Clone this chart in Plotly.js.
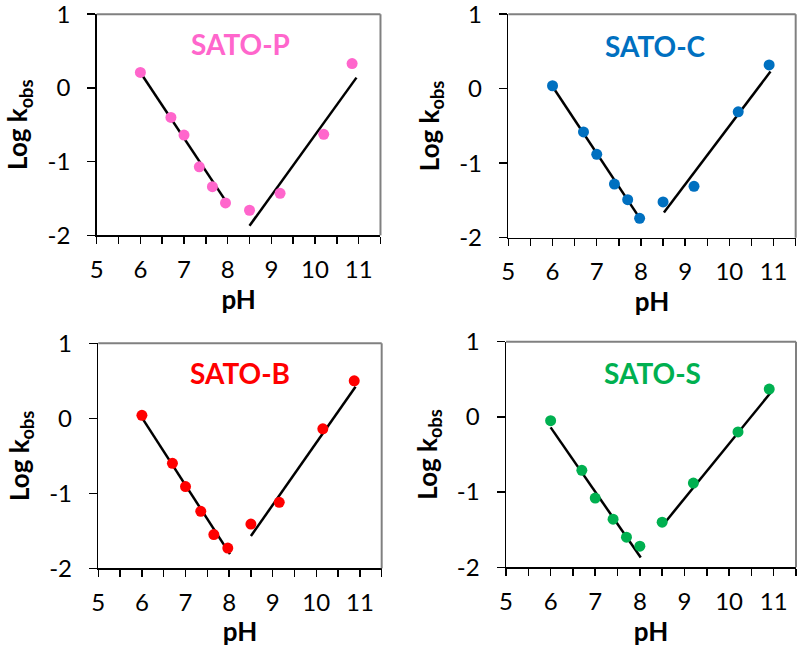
<!DOCTYPE html>
<html>
<head>
<meta charset="utf-8">
<script src="https://cdn.plot.ly/plotly-3.0.1.min.js"></script>
<style>html,body{margin:0;padding:0;background:#fff;}#chart{width:800px;height:647px;}</style>
</head>
<body>
<div id="chart"></div>
<script>
// ---- data ----
const panelNames = ["SATO-P", "SATO-C", "SATO-B", "SATO-S"];
const panelColors = ["#FF66CC", "#0070C0", "#FF0000", "#00B050"];

const phP  = [6.0, 6.7, 7.0, 7.35, 7.65, 7.95, 8.5, 9.2, 10.2, 10.85];
const logP = [0.21, -0.40, -0.64, -1.07, -1.34, -1.56, -1.66, -1.43, -0.63, 0.33];
const phC  = [6.0, 6.7, 7.0, 7.4, 7.7, 7.97, 8.5, 9.2, 10.2, 10.9];
const logC = [0.04, -0.58, -0.88, -1.28, -1.49, -1.74, -1.52, -1.31, -0.31, 0.32];
const phB  = [6.0, 6.7, 7.0, 7.35, 7.65, 7.97, 8.5, 9.15, 10.15, 10.87];
const logB = [0.04, -0.60, -0.91, -1.24, -1.55, -1.73, -1.41, -1.12, -0.14, 0.50];
const phS  = [6.0, 6.7, 7.0, 7.4, 7.7, 8.0, 8.5, 9.2, 10.2, 10.9];
const logS = [-0.05, -0.71, -1.08, -1.36, -1.60, -1.72, -1.40, -0.88, -0.20, 0.37];

// fitted lines (end points)
const fitAcidX = [[6.0, 8.03], [6.0, 8.02], [6.0, 8.02], [6.0, 8.02]];
const fitAcidY = [[0.21, -1.60], [0.03, -1.78], [0.01, -1.81], [-0.14, -1.87]];
const fitBaseX = [[8.5, 10.95], [8.52, 10.93], [8.5, 10.9], [8.5, 10.93]];
const fitBaseY = [[-1.87, 0.14], [-1.66, 0.23], [-1.57, 0.42], [-1.45, 0.32]];

// label positions (data coords)
const labelX = [8.3, 8.33, 8.24, 8.28];
const labelY = [0.60, 0.57, 0.60, 0.58];

const xTicks = [5, 6, 7, 8, 9, 10, 11];
const yTicks = [-2, -1, 0, 1];

const phAll = [phP, phC, phB, phS];
const logAll = [logP, logC, logB, logS];

// ---- layout geometry ----
const domX = [[0.1209, 0.4756], [0.6354, 0.9946], [0.1229, 0.4771], [0.6325, 0.995]];
const domY = [[0.6363, 0.978], [0.6326, 0.978], [0.1216, 0.4694], [0.1232, 0.4719]];

const FONT = "Lato, 'Open Sans', sans-serif";
const traces = [];
const layout = {
  width: 800, height: 647,
  margin: {l: 0, r: 0, t: 0, b: 0},
  paper_bgcolor: "#ffffff", plot_bgcolor: "#ffffff",
  showlegend: false,
  font: {family: FONT, color: "#000"},
  annotations: [], shapes: []
};

for (let i = 0; i < 4; i++) {
  const n = i === 0 ? "" : String(i + 1);
  const xa = "x" + n, ya = "y" + n;
  traces.push({x: fitAcidX[i], y: fitAcidY[i], xaxis: xa, yaxis: ya, mode: "lines",
    line: {color: "#000", width: 2.5}, hoverinfo: "skip"});
  traces.push({x: fitBaseX[i], y: fitBaseY[i], xaxis: xa, yaxis: ya, mode: "lines",
    line: {color: "#000", width: 2.5}, hoverinfo: "skip"});
  traces.push({x: phAll[i], y: logAll[i], xaxis: xa, yaxis: ya, mode: "markers",
    marker: {color: panelColors[i], size: 11}, cliponaxis: false});

  layout["xaxis" + n] = {
    domain: domX[i], anchor: ya, range: [5, 11.5], showgrid: false, zeroline: false,
    showline: true, linecolor: "#000", linewidth: 1.5,
    tickmode: "array", tickvals: xTicks, ticktext: xTicks.map(String),
    ticks: "outside", ticklen: 7, tickwidth: 1.5, tickcolor: "#000",
    minor: {tickmode: "linear", tick0: 5, dtick: 0.5, ticks: "outside", ticklen: 7, tickwidth: 1.5, tickcolor: "#000", showgrid: false},
    tickfont: {family: FONT, size: 24, color: "#000"},
    ticklabelstandoff: 5, ticklabeloverflow: "allow",
    title: {text: "<b>pH</b>", font: {family: FONT, size: 26, color: "#000"}, standoff: 2}
  };
  layout["yaxis" + n] = {
    domain: domY[i], anchor: xa, range: [-2, 1], showgrid: false, zeroline: false,
    showline: true, linecolor: "#000", linewidth: 1.5,
    tickmode: "array", tickvals: yTicks, ticktext: yTicks.map(String),
    ticks: "outside", ticklen: 8, tickwidth: 1.5, tickcolor: "#000",
    tickfont: {family: FONT, size: 24, color: "#000"},
    ticklabelstandoff: 12, ticklabeloverflow: "allow",
    title: {text: "<b>Log k<sub>obs</sub></b>", font: {family: FONT, size: 26, color: "#000"}, standoff: 12}
  };
  // gray top & right frame
  layout.shapes.push({type: "line", xref: xa + " domain", yref: ya + " domain", x0: 0, x1: 1, y0: 1, y1: 1,
    line: {color: "#808080", width: 2}});
  layout.shapes.push({type: "line", xref: xa + " domain", yref: ya + " domain", x0: 1, x1: 1, y0: 0, y1: 1,
    line: {color: "#808080", width: 2}});
  layout.annotations.push({xref: xa, yref: ya, x: labelX[i], y: labelY[i], text: "<b>" + panelNames[i] + "</b>",
    showarrow: false, font: {family: FONT, size: 28, color: panelColors[i]}});
}

Plotly.newPlot("chart", traces, layout, {staticPlot: true, displayModeBar: false});
</script>
</body>
</html>
